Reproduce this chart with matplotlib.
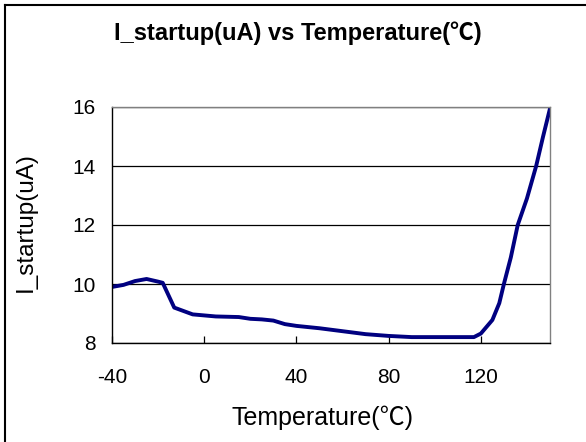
import matplotlib.pyplot as plt
from matplotlib.lines import Line2D

plt.rcParams['font.family'] = ['Liberation Sans', 'Noto Sans CJK SC', 'DejaVu Sans']
plt.rcParams['axes.unicode_minus'] = False

# data
temps = [-40, -35, -30, -25, -20, -18, -13, -5, 5, 15, 20, 25, 30, 35, 40,
         50, 60, 70, 80, 90, 100, 110, 117, 120, 125, 128, 130, 133, 136,
         140, 144, 147, 150]
i_startup = [9.9, 9.97, 10.1, 10.17, 10.08, 10.04, 9.2, 8.97, 8.9, 8.88,
             8.82, 8.8, 8.76, 8.64, 8.58, 8.5, 8.4, 8.3, 8.24, 8.2, 8.2,
             8.2, 8.2, 8.32, 8.78, 9.35, 10.0, 10.9, 12.0, 12.9, 14.0,
             15.0, 15.95]
x_ticks = [-40, 0, 40, 80, 120]
y_ticks = [8, 10, 12, 14, 16]

W, H = 586, 442
fig = plt.figure(figsize=(W/100, H/100), dpi=100)
ax = fig.add_axes([112/W, 1 - 343/H, (550-112)/W, (343-107)/H])

ax.plot(temps, i_startup, color='#000080', linewidth=2.8, solid_capstyle='round')

ax.set_xlim(-40, 150)
ax.set_ylim(8, 16)
ax.set_xticks(x_ticks)
ax.set_yticks(y_ticks)
ax.yaxis.grid(True, color='black', linewidth=0.9)
ax.set_axisbelow(True)
ax.tick_params(axis='x', direction='in', length=5, width=0.9, labelsize=15, pad=18)
ax.tick_params(axis='y', length=0, labelsize=15, pad=12)

for s in ['left', 'bottom']:
    ax.spines[s].set_color('black')
    ax.spines[s].set_linewidth(1.0)
for s in ['top', 'right']:
    ax.spines[s].set_color('#808080')
    ax.spines[s].set_linewidth(1.0)

# titles and axis labels
fig.text(298/W, 1 - 40/H, 'I_startup(uA) vs Temperature(℃)', ha='center',
         va='baseline', fontsize=17, fontweight='bold')
fig.text(322/W, 1 - 425/H, 'Temperature(℃)', ha='center', va='baseline', fontsize=18)
fig.text(26/W, 1 - 222/H, 'I_startup(uA)', ha='center', va='center',
         rotation=90, fontsize=17.5)

# outer chart border (only top and left visible)
fig.add_artist(Line2D([5/W, 5/W], [0, 1 - 4.5/H], transform=fig.transFigure,
                      color='black', linewidth=1.5))
fig.add_artist(Line2D([5/W, 1], [1 - 4.5/H, 1 - 4.5/H], transform=fig.transFigure,
                      color='black', linewidth=1.5))

fig.savefig('out.png', dpi=100)
